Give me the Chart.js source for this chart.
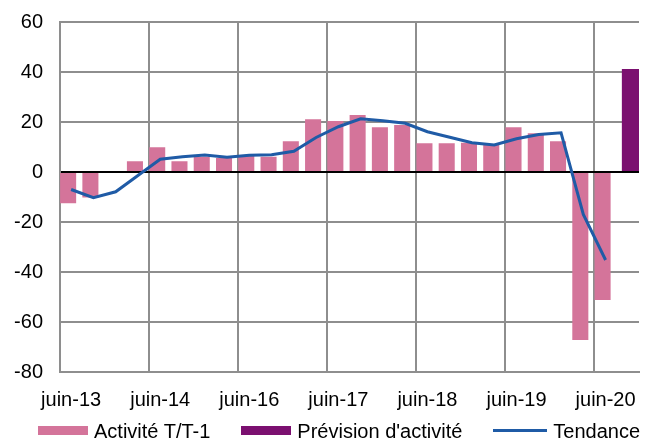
<!DOCTYPE html>
<html lang="fr">
<head>
<meta charset="utf-8">
<title>Activité T/T-1</title>
<script src="https://cdn.jsdelivr.net/npm/chart.js@4/dist/chart.umd.min.js"></script>
<style>
  html, body { margin: 0; padding: 0; background: #fff; overflow: hidden; }
  #wrap { position: relative; width: 648px; height: 438px; overflow: hidden; }
  #legend {
    position: absolute; left: 38px; top: 421px;
    display: flex; white-space: nowrap;
    font: 20px "Liberation Sans", Arial, sans-serif; line-height: 20px; color: #000;
  }
  #legend .item { display: flex; margin-right: 31px; }
  #legend .box { width: 50px; height: 9px; margin-top: 5px; margin-right: 6px; }
  #legend .line { width: 54px; height: 3px; margin-top: 7.5px; margin-right: 6px; }
</style>
</head>
<body>
<div id="wrap">
  <canvas id="chart" width="648" height="438"></canvas>
  <div id="legend"></div>
</div>
<script>
// quarterly categories (only one label out of four is shown)
const categories = [
  'juin-13', 'sept-13', 'déc-13', 'mars-14',
  'juin-14', 'sept-15', 'déc-15', 'mars-16',
  'juin-16', 'sept-16', 'déc-16', 'mars-17',
  'juin-17', 'sept-17', 'déc-17', 'mars-18',
  'juin-18', 'sept-18', 'déc-18', 'mars-19',
  'juin-19', 'sept-19', 'déc-19', 'mars-20',
  'juin-20', 'sept-20'
];

// Activité T/T-1 (%)
const activite = [
  -12.5, -10.2, 0, 4.3, 9.9, 4.3, 6.1, 5.6, 6.5, 6.1, 12.3, 21.1, 20.4,
  22.8, 17.9, 18.8, 11.5, 11.5, 11.7, 10.8, 17.9, 15.5, 12.3, -67.2, -51.2, null
];

// Prévision d'activité (last quarter only)
const prevision = [
  null, null, null, null, null, null, null, null, null, null, null, null, null,
  null, null, null, null, null, null, null, null, null, null, null, null, 41.2
];

// Tendance
const tendance = [
  -7.0, -10.3, -7.9, -1.4, 5.1, 6.1, 6.8, 5.9, 6.7, 6.9, 8.3, 13.8, 18.1,
  21.3, 20.5, 19.5, 16.1, 13.9, 11.7, 10.8, 13.3, 15.0, 15.7, -17.0, -35.2, null
];

const yTicks = { min: -80, max: 60, step: 20 };

const PINK = '#d4749a';
const PURPLE = '#7b1070';
const BLUE = '#1f5ba6';
const GRID = '#8e8e8e';
const FONT = { family: '"Liberation Sans", Arial, sans-serif', size: 20 };

const ctx = document.getElementById('chart').getContext('2d');

const chart = new Chart(ctx, {
  type: 'bar',
  data: {
    labels: categories,
    datasets: [
      {
        type: 'line',
        label: 'Tendance',
        data: tendance,
        borderColor: BLUE,
        backgroundColor: BLUE,
        borderWidth: 3,
        pointRadius: 0,
        tension: 0,
        order: 0
      },
      {
        label: 'Activité T/T-1',
        data: activite,
        backgroundColor: PINK,
        categoryPercentage: 0.54,
        barPercentage: 2.67,
        order: 1
      },
      {
        label: "Prévision d'activité",
        data: prevision,
        backgroundColor: PURPLE,
        categoryPercentage: 0.54,
        barPercentage: 3.0,
        order: 2
      }
    ]
  },
  options: {
    responsive: false,
    animation: false,
    layout: { padding: { top: 0, right: 9, left: 0, bottom: 0 } },
    plugins: {
      legend: { display: false },
      tooltip: { enabled: false }
    },
    scales: {
      x: {
        offset: true,
        grid: {
          offset: true,
          drawTicks: false,
          lineWidth: 2,
          color: c => (c.index % 4 === 0 ? GRID : 'rgba(0,0,0,0)')
        },
        border: { color: GRID, width: 2 },
        ticks: {
          autoSkip: false,
          maxRotation: 0,
          padding: 16,
          color: '#000',
          font: FONT,
          callback: function(val, i) { return i % 4 === 0 ? this.getLabelForValue(val) : ''; }
        },
        afterFit: s => { s.height = 66; }
      },
      y: {
        min: yTicks.min,
        max: yTicks.max,
        grid: {
          drawTicks: false,
          lineWidth: 2,
          color: c => (c.tick && c.tick.value === 0 ? '#000' : GRID)
        },
        border: { color: GRID, width: 2 },
        ticks: {
          stepSize: yTicks.step,
          padding: 17,
          color: '#000',
          font: FONT
        },
        // fixed plot frame: 60px wide axis, top of plot at 22px
        afterFit: s => { s.width = 60; s.paddingTop = 22; s.paddingBottom = 0; }
      }
    }
  }
});

// html legend, built from the datasets: bars first, then the line
(function buildLegend() {
  const el = document.getElementById('legend');
  const sets = chart.data.datasets.slice().sort((a, b) => (a.type === 'line') - (b.type === 'line'));
  sets.forEach(ds => {
    const item = document.createElement('div');
    item.className = 'item';
    const mark = document.createElement('span');
    mark.className = ds.type === 'line' ? 'line' : 'box';
    mark.style.background = ds.type === 'line' ? ds.borderColor : ds.backgroundColor;
    const txt = document.createElement('span');
    txt.textContent = ds.label;
    item.appendChild(mark);
    item.appendChild(txt);
    el.appendChild(item);
  });
})();
</script>
</body>
</html>
